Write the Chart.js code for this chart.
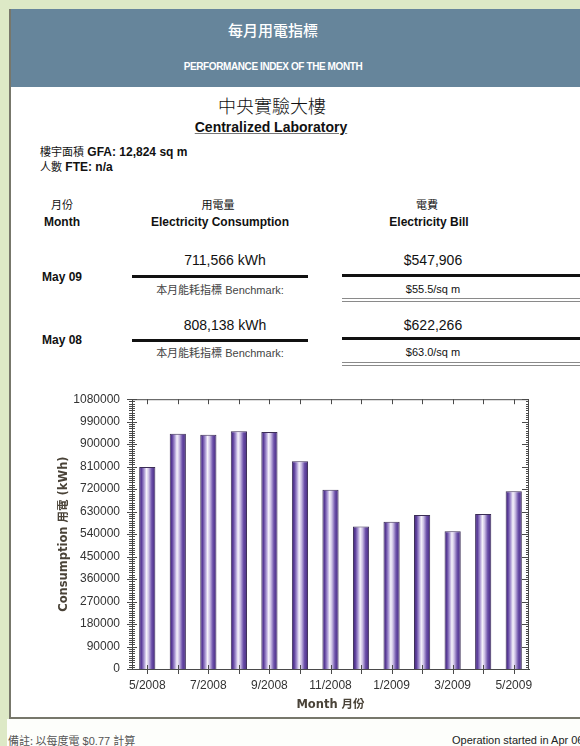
<!DOCTYPE html>
<html>
<head>
<meta charset="utf-8">
<script src="https://cdn.jsdelivr.net/npm/chart.js@4/dist/chart.umd.min.js"></script>
<style>
  html, body { margin: 0; padding: 0; }
  body {
    width: 580px; height: 746px; position: relative; overflow: hidden;
    background: #dde9c6; font-family: "Liberation Sans", Arial, sans-serif; color: #111;
  }
  .panel {
    position: absolute; left: 9px; top: 9px; width: 600px; height: 708px;
    background: #fff; border-left: 2px solid #77776b; border-bottom: 2px solid #77776b;
  }
  .header { position: absolute; left: 11px; top: 9px; width: 600px; height: 78px; background: #66859b; }
  .footer { position: absolute; left: 7px; top: 719px; width: 600px; height: 27px; background: #fdfefb; }
  .t { position: absolute; transform: translate(-50%, -50%); white-space: nowrap; }
  .l { position: absolute; transform: translateY(-50%); white-space: nowrap; }
  .b { font-weight: bold; }
  .rule { position: absolute; background: #111; }
  .thin { position: absolute; background: #8a8a8a; height: 1px; }
  #chartBox { position: absolute; left: 0; top: 380px; width: 580px; height: 340px; }
</style>
</head>
<body>
<div class="panel"></div>
<div class="header"></div>
<div class="footer"></div>

<div class="t" style="left:273px;top:29px;color:#fff;font-size:15px;font-weight:500;font-family:'Noto Sans CJK TC',sans-serif;">每月用電指標</div>
<div class="t b" style="left:273px;top:66px;color:#fff;font-size:10px;letter-spacing:-0.4px;">PERFORMANCE INDEX OF THE MONTH</div>

<div class="t" style="left:272px;top:105px;font-size:18px;font-weight:300;font-family:'Noto Sans CJK TC',sans-serif;">中央實驗大樓</div>
<div class="t b" style="left:271px;top:127px;font-size:14px;text-decoration:underline;text-decoration-color:#777;">Centralized Laboratory</div>

<div class="l" style="left:40px;top:151px;font-size:12px;"><span style="font-family:'Noto Sans CJK TC';font-size:11px;">樓宇面積</span> <b>GFA: 12,824 sq m</b></div>
<div class="l" style="left:40px;top:166px;font-size:12px;"><span style="font-family:'Noto Sans CJK TC';font-size:11px;">人數</span> <b>FTE: n/a</b></div>

<div class="t" style="left:62px;top:204px;font-size:11px;font-family:'Noto Sans CJK TC',sans-serif;">月份</div>
<div class="t b" style="left:62px;top:222px;font-size:12px;">Month</div>
<div class="t" style="left:218px;top:204px;font-size:11px;font-family:'Noto Sans CJK TC',sans-serif;">用電量</div>
<div class="t b" style="left:220px;top:222px;font-size:12px;">Electricity Consumption</div>
<div class="t" style="left:427px;top:204px;font-size:11px;font-family:'Noto Sans CJK TC',sans-serif;">電費</div>
<div class="t b" style="left:429px;top:222px;font-size:12px;">Electricity Bill</div>

<div class="t b" style="left:62px;top:277px;font-size:12px;">May 09</div>
<div class="t" style="left:225px;top:260px;font-size:14px;">711,566 kWh</div>
<div class="rule" style="left:132px;top:275px;width:176px;height:3px;"></div>
<div class="t" style="left:220px;top:289px;font-size:11px;color:#444;"><span style="font-family:'Noto Sans CJK TC';">本月能耗指標</span> Benchmark:</div>
<div class="t" style="left:433px;top:260px;font-size:14px;">$547,906</div>
<div class="rule" style="left:342px;top:274px;width:240px;height:3px;"></div>
<div class="t" style="left:433px;top:289px;font-size:11px;">$55.5/sq m</div>
<div class="thin" style="left:342px;top:298px;width:240px;"></div>
<div class="thin" style="left:342px;top:301px;width:240px;"></div>

<div class="t b" style="left:62px;top:340px;font-size:12px;">May 08</div>
<div class="t" style="left:225px;top:325px;font-size:14px;">808,138 kWh</div>
<div class="rule" style="left:132px;top:339px;width:176px;height:3px;"></div>
<div class="t" style="left:220px;top:352px;font-size:11px;color:#444;"><span style="font-family:'Noto Sans CJK TC';">本月能耗指標</span> Benchmark:</div>
<div class="t" style="left:433px;top:325px;font-size:14px;">$622,266</div>
<div class="rule" style="left:342px;top:337px;width:240px;height:3px;"></div>
<div class="t" style="left:433px;top:352px;font-size:11px;">$63.0/sq m</div>
<div class="thin" style="left:342px;top:362px;width:240px;"></div>
<div class="thin" style="left:342px;top:365px;width:240px;"></div>

<div class="l" style="left:8px;top:740px;font-size:11px;color:#555;"><span style="font-family:'Noto Sans CJK TC';">備註: 以每度電</span> $0.77 <span style="font-family:'Noto Sans CJK TC';">計算</span></div>
<div class="l" style="left:452px;top:740px;font-size:11px;color:#222;">Operation started in Apr 06</div>

<div id="chartBox"><canvas id="chart" width="580" height="340"></canvas></div>

<script>
// Monthly electricity consumption, May 2008 – May 2009 (kWh)
const months = ['5/2008', '6/2008', '7/2008', '8/2008', '9/2008', '10/2008', '11/2008',
                '12/2008', '1/2009', '2/2009', '3/2009', '4/2009', '5/2009'];
const consumption = [808138, 942000, 938000, 952000, 949000, 832000, 718000,
                     570000, 589000, 616000, 551000, 620000, 711566];
// Only every other month is labelled on the axis
const xTickLabels = ['5/2008', '', '7/2008', '', '9/2008', '', '11/2008',
                     '', '1/2009', '', '3/2009', '', '5/2009'];
const yMax = 1080000;
const yStep = 90000;
const yMinorStep = 9000;

const axisColor = '#4a4a4a';
const barFraction = 0.53;

// Horizontal cylinder-style shading for each bar
function barFill(ctx) {
  const chart = ctx.chart;
  const area = chart.chartArea;
  if (!area || ctx.type !== 'data') return '#6a4fa6';
  const cx = chart.scales.x.getPixelForValue(ctx.dataIndex);
  const w = area.width / months.length * barFraction;
  const g = chart.ctx.createLinearGradient(cx - w / 2, 0, cx + w / 2, 0);
  g.addColorStop(0.00, '#43267d');
  g.addColorStop(0.14, '#5a3c99');
  g.addColorStop(0.30, '#a592d0');
  g.addColorStop(0.45, '#f6f3fb');
  g.addColorStop(0.58, '#cfc3e6');
  g.addColorStop(0.78, '#6b4fa9');
  g.addColorStop(1.00, '#43267d');
  return g;
}

// Frame lines on top/right plus the tick marks on all four sides
const axisTicks = {
  id: 'axisTicks',
  afterDatasetsDraw(chart) {
    const { ctx, chartArea: a, scales: { x, y } } = chart;
    ctx.save();
    ctx.strokeStyle = axisColor;
    ctx.lineWidth = 1;
    ctx.beginPath();
    ctx.moveTo(a.left, a.top + 0.5); ctx.lineTo(a.right, a.top + 0.5);
    ctx.moveTo(a.right - 0.5, a.top); ctx.lineTo(a.right - 0.5, a.bottom);
    for (let v = 0; v <= yMax; v += yMinorStep) {
      const py = Math.round(y.getPixelForValue(v)) + 0.5;
      const major = v % yStep === 0;
      const lh = major ? 5 : 3;
      ctx.moveTo(a.left - lh, py); ctx.lineTo(a.left + lh, py);
      const rh = major ? 7 : 3;
      ctx.moveTo(a.right - rh, py); ctx.lineTo(a.right, py);
    }
    for (let i = 0; i < months.length; i++) {
      const px = Math.round(x.getPixelForValue(i)) + 0.5;
      ctx.moveTo(px, a.bottom - 4); ctx.lineTo(px, a.bottom + 5);
      ctx.moveTo(px, a.top); ctx.lineTo(px, a.top + 5);
    }
    ctx.stroke();
    ctx.restore();
  }
};

Chart.defaults.font.family = "'Liberation Sans', Arial, sans-serif";
Chart.defaults.color = '#333';

new Chart(document.getElementById('chart'), {
  type: 'bar',
  data: {
    labels: months,
    datasets: [{
      data: consumption,
      backgroundColor: barFill,
      borderColor: '#3b2d55',
      borderWidth: 1,
      borderSkipped: 'bottom',
      categoryPercentage: 1,
      barPercentage: barFraction
    }]
  },
  options: {
    responsive: false,
    animation: false,
    events: [],
    layout: { padding: { left: 53, right: 51, top: 19, bottom: 4 } },
    plugins: { legend: { display: false }, tooltip: { enabled: false } },
    scales: {
      x: {
        grid: { display: false, drawTicks: false },
        border: { display: true, color: axisColor },
        ticks: {
          autoSkip: false, maxRotation: 0, padding: 9,
          font: { size: 12 }, color: '#333',
          callback: (v, i) => xTickLabels[i]
        },
        title: {
          display: true, text: 'Month 月份', color: '#4a4338',
          font: { family: "'DejaVu Sans', 'Noto Sans CJK TC', sans-serif", size: 11.5, weight: 'bold' }
        },
        afterFit(scale) { scale.height = 47; }
      },
      y: {
        min: 0, max: yMax,
        grid: { display: false, drawTicks: false },
        border: { display: true, color: axisColor },
        ticks: {
          stepSize: yStep, padding: 12,
          font: { size: 12 }, color: '#333',
          callback: v => String(v)
        },
        title: {
          display: true, text: 'Consumption 用電 (kWh)', color: '#4a4338',
          font: { family: "'DejaVu Sans', 'Noto Sans CJK TC', sans-serif", size: 11.5, weight: 'bold' }
        },
        afterFit(scale) { scale.width = 79; }
      }
    }
  },
  plugins: [axisTicks]
});
</script>
</body>
</html>
